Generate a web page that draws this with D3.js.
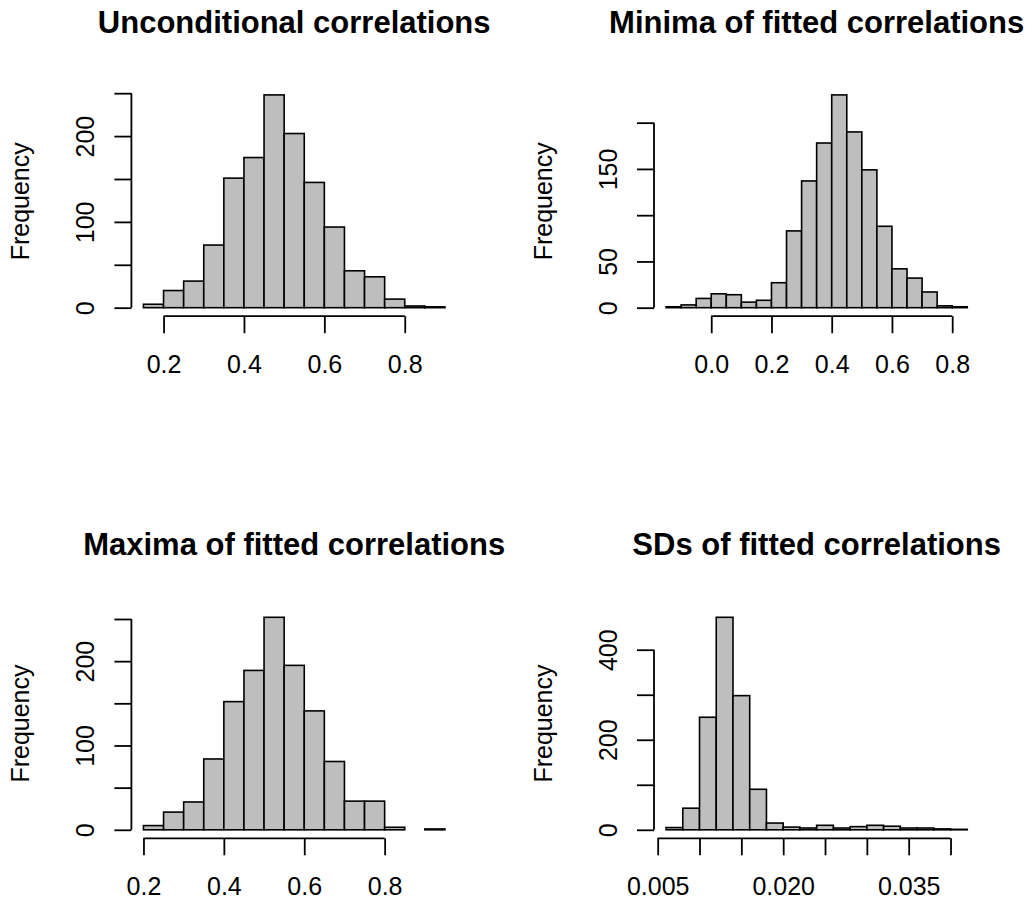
<!DOCTYPE html>
<html>
<head>
<meta charset="utf-8">
<script src="https://cdn.jsdelivr.net/npm/d3@7"></script>
<style>
  body { margin: 0; background: white; }
  svg { display: block; font-family: "Liberation Sans", Arial, Helvetica, sans-serif; }
</style>
</head>
<body>
<svg id="chart" width="1035" height="903"></svg>
<script>
// bin edges and counts
const uncondBreaks = [0.15, 0.2, 0.25, 0.3, 0.35, 0.4, 0.45, 0.5, 0.55, 0.6, 0.65, 0.7, 0.75, 0.8, 0.85, 0.9];
const uncondCounts = [4, 20, 31, 73, 151, 175, 248, 203, 146, 94, 43, 36, 10, 2, 1];

const minBreaks = [-0.15, -0.1, -0.05, 0, 0.05, 0.1, 0.15, 0.2, 0.25, 0.3, 0.35, 0.4, 0.45, 0.5, 0.55, 0.6, 0.65, 0.7, 0.75, 0.8, 0.85];
const minCounts = [1, 3, 10, 15, 14, 6, 8, 27, 83, 137, 178, 230, 190, 149, 88, 42, 32, 17, 2, 1];

const maxBreaks = [0.2, 0.25, 0.3, 0.35, 0.4, 0.45, 0.5, 0.55, 0.6, 0.65, 0.7, 0.75, 0.8, 0.85, 0.9, 0.95];
const maxCounts = [5, 21, 33, 84, 152, 189, 252, 195, 141, 81, 34, 34, 3, 0, 1];

const sdBreaks = [0.006, 0.008, 0.01, 0.012, 0.014, 0.016, 0.018, 0.02, 0.022, 0.024, 0.026, 0.028, 0.03, 0.032, 0.034, 0.036, 0.038, 0.04, 0.042];
const sdCounts = [5, 48, 250, 472, 298, 90, 15, 6, 4, 10, 4, 7, 10, 8, 4, 4, 2, 1];

// axis ticks, and the ones R actually labelled
const corrTicks = [0.2, 0.4, 0.6, 0.8];
const minXTicks = [0, 0.2, 0.4, 0.6, 0.8];
const sdXTicks = [0.005, 0.01, 0.015, 0.02, 0.025, 0.03, 0.035, 0.04];
const sdXLabels = ["0.005", "", "", "0.020", "", "", "0.035", ""];

const count250Ticks = [0, 50, 100, 150, 200, 250];
const count250Labels = ["0", "", "100", "", "200", ""];
const minYTicks = [0, 50, 100, 150, 200];
const minYLabels = ["0", "50", "", "150", ""];
const sdYTicks = [0, 100, 200, 300, 400];
const sdYLabels = ["0", "", "200", "", "400"];

const titles = [
  "Unconditional correlations",
  "Minima of fitted correlations",
  "Maxima of fitted correlations",
  "SDs of fitted correlations",
];

const svg = d3.select("#chart");

// plot regions (left col / right col, top row / bottom row)
const cols = [[131.4, 457], [654, 979.3]];
const rows = [[86.4, 316.2], [608.8, 838.3]];

const panels = [
  { breaks: uncondBreaks, counts: uncondCounts, xt: corrTicks, xl: ["0.2", "0.4", "0.6", "0.8"], yt: count250Ticks, yl: count250Labels, c: 0, r: 0 },
  { breaks: minBreaks, counts: minCounts, xt: minXTicks, xl: ["0.0", "0.2", "0.4", "0.6", "0.8"], yt: minYTicks, yl: minYLabels, c: 1, r: 0 },
  { breaks: maxBreaks, counts: maxCounts, xt: corrTicks, xl: ["0.2", "0.4", "0.6", "0.8"], yt: count250Ticks, yl: count250Labels, c: 0, r: 1 },
  { breaks: sdBreaks, counts: sdCounts, xt: sdXTicks, xl: sdXLabels, yt: sdYTicks, yl: sdYLabels, c: 1, r: 1 },
];

panels.forEach((p, i) => drawHist(p, titles[i]));

function drawHist(p, title) {
  const [x0, x1] = cols[p.c];
  const [y0, y1] = rows[p.r];

  // R style 4% padding on both axes
  const lo = p.breaks[0], hi = p.breaks[p.breaks.length - 1];
  const padX = (hi - lo) * 0.04;
  const ymax = d3.max(p.counts);
  const x = d3.scaleLinear().domain([lo - padX, hi + padX]).range([x0, x1]);
  const y = d3.scaleLinear().domain([-ymax * 0.04, ymax * 1.04]).range([y1, y0]);

  const bins = p.counts.map((n, i) => ({ a: p.breaks[i], b: p.breaks[i + 1], n: n }));

  const g = svg.append("g");

  g.selectAll("rect")
    .data(bins.filter((d) => d.n > 0))
    .join("rect")
    .attr("x", (d) => x(d.a))
    .attr("y", (d) => y(d.n))
    .attr("width", (d) => x(d.b) - x(d.a))
    .attr("height", (d) => y(0) - y(d.n))
    .attr("fill", "#bebebe")
    .attr("stroke", "black")
    .attr("stroke-width", 1.6);

  // x axis
  const xa = g.append("g")
    .attr("transform", `translate(0,${y1})`)
    .call(d3.axisBottom(x).tickValues(p.xt).tickSize(17).tickFormat((d, i) => p.xl[i]));
  xa.select(".domain").remove();
  xa.append("line")
    .attr("x1", x(p.xt[0])).attr("x2", x(p.xt[p.xt.length - 1]))
    .attr("stroke", "black");
  xa.selectAll("line").attr("stroke", "black").attr("stroke-width", 1.8);
  xa.selectAll(".tick text")
    .attr("y", 57).attr("dy", null)
    .attr("fill", "black").attr("font-size", 25);

  // y axis
  const ya = g.append("g")
    .attr("transform", `translate(${x0},0)`)
    .call(d3.axisLeft(y).tickValues(p.yt).tickSize(17).tickFormat((d, i) => p.yl[i]));
  ya.select(".domain").remove();
  ya.append("line")
    .attr("y1", y(p.yt[0])).attr("y2", y(p.yt[p.yt.length - 1]))
    .attr("stroke", "black");
  ya.selectAll("line").attr("stroke", "black").attr("stroke-width", 1.8);
  ya.selectAll(".tick text")
    .attr("transform", "rotate(-90)")
    .attr("x", 0).attr("y", -37).attr("dy", null)
    .attr("text-anchor", "middle")
    .attr("fill", "black").attr("font-size", 25);

  // labels
  g.append("text")
    .attr("transform", `translate(${x0 - 102},${(y0 + y1) / 2}) rotate(-90)`)
    .attr("text-anchor", "middle")
    .attr("font-size", 25)
    .text("Frequency");

  g.append("text")
    .attr("x", (x0 + x1) / 2)
    .attr("y", y0 - 53.4)
    .attr("text-anchor", "middle")
    .attr("font-size", 31)
    .attr("font-weight", "bold")
    .text(title);
}
</script>
</body>
</html>
